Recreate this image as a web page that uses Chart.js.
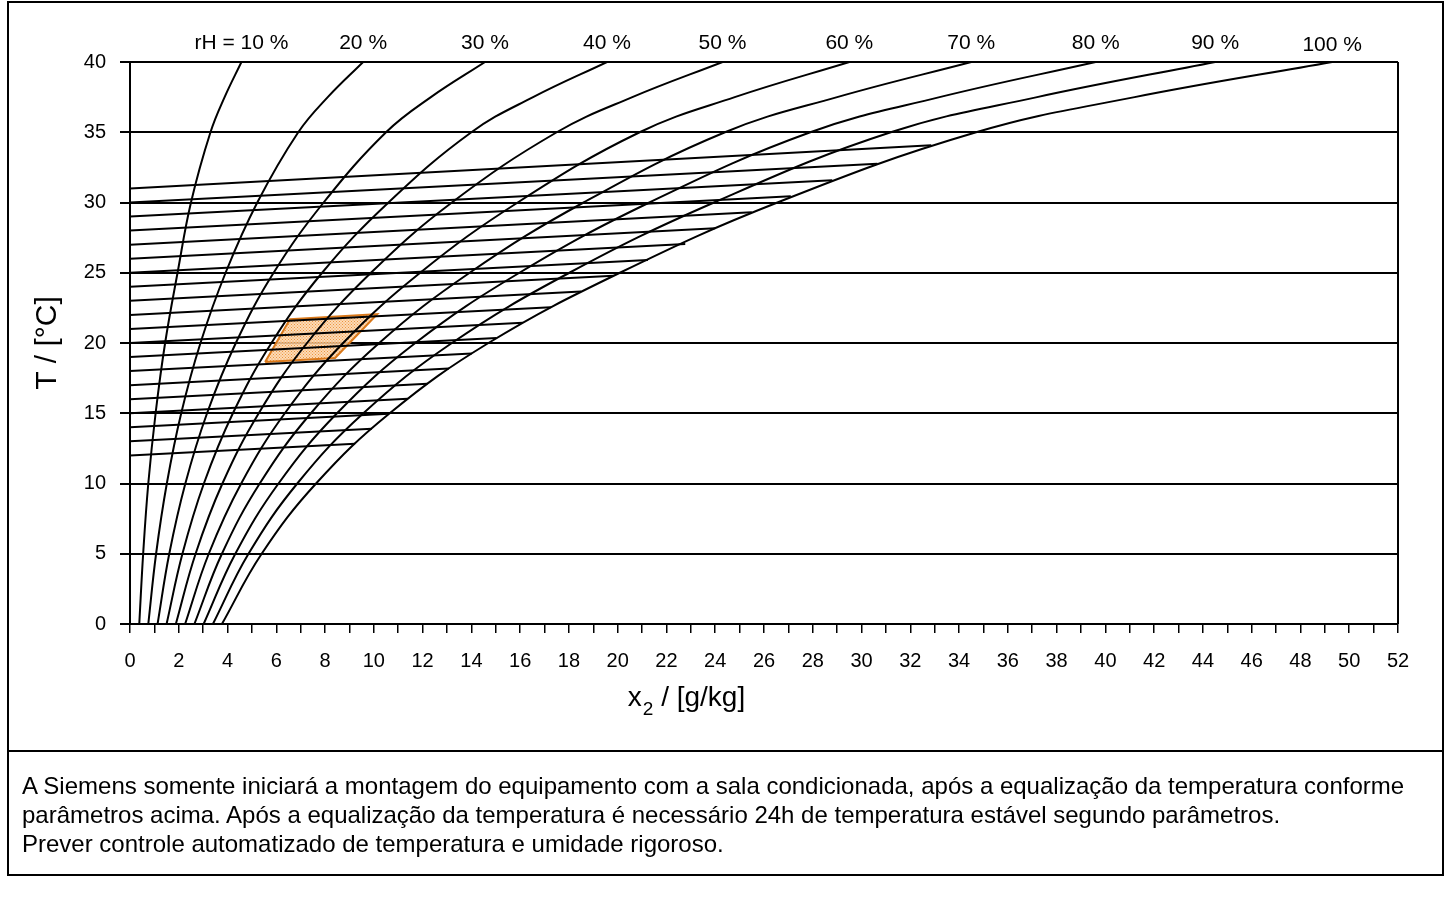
<!DOCTYPE html>
<html>
<head>
<meta charset="utf-8">
<title>rH chart</title>
<script src="https://cdn.jsdelivr.net/npm/chart.js@4.4.0/dist/chart.umd.min.js"></script>
<style>
  html, body { margin: 0; padding: 0; background: #fff; }
  #wrap { position: relative; width: 1454px; height: 897px; }
  #chart { position: absolute; left: 0; top: 0; }
  #note {
    position: absolute; left: 22px; top: 771px;
    font-family: "Liberation Sans", Arial, sans-serif;
    font-size: 24px; line-height: 29px; color: #000;
    white-space: nowrap;
  }
</style>
</head>
<body>
<div id="wrap">
  <canvas id="chart" width="1454" height="897"></canvas>
  <div id="note">
    A Siemens somente iniciará a montagem do equipamento com a sala condicionada, após a equalização da temperatura conforme<br>
    parâmetros acima. Após a equalização da temperatura é necessário 24h de temperatura estável segundo parâmetros.<br>
    Prever controle automatizado de temperatura e umidade rigoroso.
  </div>
</div>
<script>
// temperatures (°C) where each rH curve is read
const temps = [0, 5, 10, 15, 20, 25, 30, 35, 37.5, 40];

// x2 (g/kg) of each relative humidity curve at the temps above
const rh10  = [0.38, 0.54, 0.75, 1.05, 1.44, 1.95, 2.50, 3.30, 3.88, 4.57];
const rh20  = [0.75, 1.07, 1.51, 2.10, 2.89, 3.92, 5.22, 6.90, 8.11, 9.56];
const rh30  = [1.13, 1.61, 2.27, 3.16, 4.34, 5.89, 7.94, 10.5, 12.34, 14.56];
const rh40  = [1.50, 2.15, 3.03, 4.22, 5.80, 7.88, 10.6, 14.0, 16.53, 19.56];
const rh50  = [1.88, 2.69, 3.79, 5.28, 7.26, 9.88, 13.2, 17.5, 20.6, 24.3];
const rh60  = [2.26, 3.23, 4.56, 6.35, 8.74, 11.9, 15.9, 20.9, 24.8, 29.5];
const rh70  = [2.64, 3.77, 5.32, 7.42, 10.22, 13.93, 18.6, 24.4, 29.0, 34.5];
const rh80  = [3.02, 4.32, 6.09, 8.49, 11.70, 15.97, 21.3, 27.9, 33.2, 39.6];
const rh90  = [3.40, 4.86, 6.86, 9.57, 13.20, 18.02, 23.95, 31.2, 37.2, 44.5];
const rh100 = [3.77, 5.40, 7.63, 10.65, 14.70, 20.09, 26.55, 34.7, 41.2, 49.3];

const rhCurves = [rh10, rh20, rh30, rh40, rh50, rh60, rh70, rh80, rh90, rh100];
const rhLabels = ['rH = 10 %', '20 %', '30 %', '40 %', '50 %', '60 %', '70 %', '80 %', '90 %', '100 %'];

// sloped temperature lines: start at x2 = 0, end on the 100 % curve
const lineStartT = [12, 13, 14, 15, 16, 17, 18, 19, 20, 21, 22, 23, 24, 25, 26, 27, 28, 29, 30, 31];
const lineEndX   = [9.23, 9.92, 10.62, 11.39, 12.2, 13.08, 14.02, 15.03, 16.11, 17.26,
                    18.5, 19.83, 21.24, 22.77, 24.0, 25.5, 27.1, 28.8, 30.65, 32.86];
const lineEndT   = [12.83, 13.89, 14.96, 16.03, 17.1, 18.18, 19.26, 20.35, 21.45, 22.55,
                    23.67, 24.78, 25.91, 27.05, 28.16, 29.3, 30.44, 31.59, 32.76, 34.07];

// required room condition zone (orange)
const zoneX = [5.54, 6.56, 10.14, 8.41, 5.54];
const zoneT = [18.65, 21.69, 22.06, 18.93, 18.65];

const FONT = '"Liberation Sans", Arial, sans-serif';

// dotted orange fill like the original hatch
function dotPattern() {
  const t = document.createElement('canvas');
  t.width = 3; t.height = 3;
  const g = t.getContext('2d');
  g.fillStyle = 'rgba(252, 214, 170, 0.85)';
  g.fillRect(0, 0, 3, 3);
  g.fillStyle = 'rgba(236, 140, 50, 0.9)';
  g.fillRect(0, 0, 1, 1);
  g.fillRect(1.5, 1.5, 1, 1);
  return g.createPattern(t, 'repeat');
}

const datasets = [];

rhCurves.forEach((c, i) => {
  datasets.push({
    label: rhLabels[i],
    data: c.map((x, k) => ({ x: x, y: temps[k] })),
    showLine: true,
    borderColor: '#000',
    borderWidth: 2,
    pointRadius: 0,
    tension: 0.4,
    order: 1
  });
});

lineStartT.forEach((t, i) => {
  datasets.push({
    label: 'T ' + t,
    data: [{ x: 0, y: t }, { x: lineEndX[i], y: lineEndT[i] }],
    showLine: true,
    borderColor: '#000',
    borderWidth: 2,
    pointRadius: 0,
    tension: 0,
    order: 1
  });
});

datasets.push({
  label: 'zone',
  data: zoneX.map((x, k) => ({ x: x, y: zoneT[k] })),
  showLine: true,
  borderColor: '#d9781a',
  borderWidth: 2,
  backgroundColor: dotPattern(),
  fill: 'shape',
  pointRadius: 0,
  tension: 0,
  order: 5
});

const decorations = {
  id: 'decorations',
  afterDraw(chart) {
    const c = chart.ctx;
    const a = chart.chartArea;
    const xs = chart.scales.x;
    c.save();
    c.strokeStyle = '#000';

    // plot right border
    c.lineWidth = 2;
    c.beginPath();
    c.moveTo(a.right, a.top);
    c.lineTo(a.right, a.bottom);
    c.stroke();

    // outer frame and divider
    c.strokeRect(8, 2, 1435, 873);
    c.beginPath();
    c.moveTo(8, 751);
    c.lineTo(1443, 751);
    c.stroke();

    c.fillStyle = '#000';

    // rH labels over the curve ends
    c.font = '21px ' + FONT;
    c.textAlign = 'center';
    c.textBaseline = 'middle';
    rhCurves.forEach((cur, i) => {
      const px = xs.getPixelForValue(cur[cur.length - 1]);
      c.fillText(rhLabels[i], px, i === 9 ? 45 : 43);
    });

    // y title
    c.save();
    c.translate(48, 343);
    c.rotate(-Math.PI / 2);
    c.font = '30px ' + FONT;
    c.fillText('T / [°C]', 0, 0);
    c.restore();

    // x title with subscript
    c.font = '28px ' + FONT;
    const w1 = c.measureText('x').width;
    c.font = '19px ' + FONT;
    const w2 = c.measureText('2').width;
    c.font = '28px ' + FONT;
    const w3 = c.measureText(' / [g/kg]').width;
    const x0 = 686 - (w1 + w2 + w3) / 2;
    c.textAlign = 'left';
    c.textBaseline = 'alphabetic';
    c.fillText('x', x0, 706);
    c.font = '19px ' + FONT;
    c.fillText('2', x0 + w1 + 1, 715);
    c.font = '28px ' + FONT;
    c.fillText(' / [g/kg]', x0 + w1 + w2 + 1, 706);

    c.restore();
  }
};

new Chart(document.getElementById('chart'), {
  type: 'scatter',
  data: { datasets: datasets },
  options: {
    responsive: false,
    animation: false,
    events: [],
    layout: { padding: { left: 0, top: 62, right: 56, bottom: 0 } },
    plugins: {
      legend: { display: false },
      tooltip: { enabled: false },
      title: { display: false }
    },
    scales: {
      x: {
        type: 'linear',
        min: 0,
        max: 52,
        afterFit(scale) { scale.height = 273; },
        ticks: {
          stepSize: 1,
          autoSkip: false,
          maxRotation: 0,
          padding: 16,
          color: '#000',
          font: { family: FONT, size: 20 },
          callback: v => (v % 2 === 0 ? v : '')
        },
        grid: {
          drawOnChartArea: false,
          drawTicks: true,
          tickLength: 9,
          color: '#000',
          lineWidth: 1.5
        },
        border: { display: true, color: '#000', width: 2 }
      },
      y: {
        type: 'linear',
        min: 0,
        max: 40,
        afterFit(scale) { scale.width = 130; },
        ticks: {
          stepSize: 5,
          padding: 14,
          color: '#000',
          font: { family: FONT, size: 20 }
        },
        grid: {
          color: '#000',
          lineWidth: 2,
          tickLength: 10
        },
        border: { display: true, color: '#000', width: 2 }
      }
    }
  },
  plugins: [decorations]
});
</script>
</body>
</html>
